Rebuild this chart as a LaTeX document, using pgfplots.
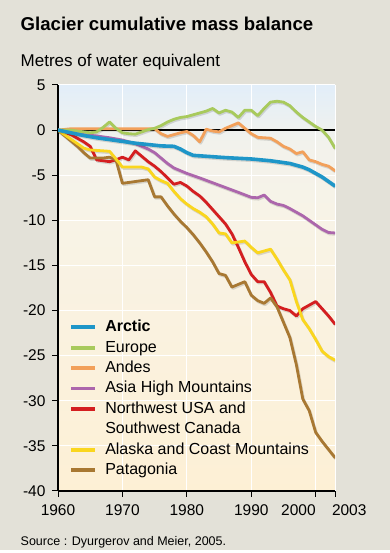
\documentclass[border=0pt]{standalone}
\usepackage{fontspec}
\setmainfont{Liberation Sans}
\usepackage{pgfplots}
\usepackage{pgfplotstable}
\pgfplotsset{compat=1.18}
\definecolor{bg}{RGB}{227,225,216}
\definecolor{cArctic}{RGB}{30,150,200}
\definecolor{cEurope}{RGB}{168,202,92}
\definecolor{cAndes}{RGB}{242,160,90}
\definecolor{cAsia}{RGB}{172,102,172}
\definecolor{cNW}{RGB}{212,30,32}
\definecolor{cAlaska}{RGB}{250,214,30}
\definecolor{cPat}{RGB}{168,120,50}
\definecolor{sBlue}{RGB}{226,238,249}
\definecolor{sMid}{RGB}{242,242,236}
\definecolor{sCream}{RGB}{248,243,230}
\definecolor{sBot}{RGB}{253,240,213}
\pgfdeclareverticalshading{plotbg}{100bp}{color(0bp)=(sBot); color(25bp)=(sBot); color(58bp)=(sCream); color(68bp)=(sMid); color(75bp)=(sBlue); color(100bp)=(sBlue)}
\pgfplotsset{shadow/.style={black, opacity=0.13, line width=3pt, forget plot, transform canvas={xshift=0.9pt,yshift=-1.3pt}}}

\pgfplotstableread{
year v
1960 0
1962 -0.3
1964 -0.6
1966 -0.85
1968 -1.05
1970 -1.25
1972 -1.45
1974 -1.6
1976 -1.75
1978 -1.8
1979 -2.1
1980 -2.5
1981 -2.8
1983 -2.9
1986 -3.05
1990 -3.2
1993 -3.4
1996 -3.7
1997 -3.9
1998 -4.1
1999 -4.4
2000 -4.8
2001 -5.2
2002 -5.7
2003 -6.2
}\arctic

\pgfplotstableread{
year v
1960 0
1962 0
1963 -0.1
1964 -0.2
1965 -0.3
1966 -0.2
1967 0.3
1968 0.9
1969 0.2
1970 -0.3
1971 -0.4
1972 -0.45
1973 -0.2
1974 0.05
1975 0.2
1976 0.5
1977 0.9
1978 1.2
1979 1.4
1980 1.5
1981 1.7
1982 1.9
1983 2.1
1984 2.4
1985 1.9
1986 2.2
1987 2.0
1988 1.4
1989 2.2
1990 2.2
1991 1.6
1992 2.4
1993 3.1
1994 3.2
1995 3.1
1996 2.7
1997 2.0
1998 1.4
1999 0.9
2000 0.4
2001 0.0
2002 -0.8
2003 -2.0
}\europe

\pgfplotstableread{
year v
1960 0
1962 0.15
1975 0.15
1976 -0.4
1977 -0.7
1978 -0.5
1979 -0.3
1980 -0.15
1981 -0.6
1982 -1.3
1983 0.1
1984 -0.1
1985 -0.2
1986 0.2
1987 0.5
1988 0.8
1989 0.2
1990 -0.4
1991 -0.8
1992 -0.85
1993 -0.9
1994 -1.3
1995 -1.8
1996 -2.1
1997 -2.6
1998 -2.4
1999 -3.3
2000 -3.5
2001 -3.8
2002 -4.0
2003 -4.5
}\andes

\pgfplotstableread{
year v
1960 0
1962 -0.3
1964 -0.5
1966 -0.65
1968 -0.85
1970 -1.1
1972 -1.5
1974 -2.1
1975 -2.5
1976 -3.1
1977 -3.7
1978 -4.2
1980 -4.8
1982 -5.3
1985 -6.1
1988 -6.9
1990 -7.45
1991 -7.5
1992 -7.2
1993 -7.9
1994 -8.2
1995 -8.35
1996 -8.7
1998 -9.5
2000 -10.5
2001 -11.0
2002 -11.35
2003 -11.4
}\asia

\pgfplotstableread{
year v
1960 0
1962 -0.5
1964 -1.3
1965 -1.8
1966 -3.3
1967 -3.4
1968 -3.5
1969 -3.3
1970 -3.0
1971 -3.3
1972 -2.3
1973 -2.9
1974 -3.5
1975 -4.0
1976 -4.6
1977 -5.3
1978 -6.0
1979 -5.8
1980 -6.2
1981 -6.8
1982 -7.3
1983 -8.0
1984 -8.8
1985 -9.6
1986 -10.4
1987 -11.5
1988 -13.0
1989 -14.6
1990 -16.0
1991 -16.8
1992 -16.8
1993 -18.0
1994 -19.5
1995 -19.8
1996 -20.0
1997 -20.6
1998 -19.8
1999 -19.4
2000 -19.0
2001 -19.8
2002 -20.6
2003 -21.5
}\nwusa

\pgfplotstableread{
year v
1960 0
1961 -0.5
1962 -1.0
1963 -1.5
1964 -2.0
1965 -2.2
1966 -2.25
1967 -2.3
1968 -2.35
1969 -3.2
1970 -4.1
1971 -4.1
1972 -4.1
1973 -4.1
1974 -4.3
1975 -5.2
1976 -5.6
1977 -5.9
1978 -6.8
1979 -7.6
1980 -8.2
1981 -8.7
1982 -9.1
1983 -9.6
1984 -10.4
1985 -11.4
1986 -11.5
1987 -12.5
1988 -12.4
1989 -12.3
1990 -13.0
1991 -13.6
1992 -13.4
1993 -13.2
1994 -14.3
1995 -15.5
1996 -16.6
1997 -19.0
1998 -21.0
1999 -22.0
2000 -23.2
2001 -24.5
2002 -25.1
2003 -25.5
}\alaska

\pgfplotstableread{
year v
1960 0
1961 -0.6
1962 -1.2
1963 -1.8
1964 -2.5
1965 -3.1
1966 -3.1
1967 -3.1
1968 -3.0
1969 -3.3
1970 -5.9
1971 -5.8
1972 -5.7
1973 -5.6
1974 -5.5
1975 -7.4
1976 -7.4
1977 -8.4
1978 -9.3
1979 -10.1
1980 -10.8
1981 -11.6
1982 -12.5
1983 -13.5
1984 -14.6
1985 -15.9
1986 -16.1
1987 -17.4
1988 -17.1
1989 -16.8
1990 -18.3
1991 -18.9
1992 -19.2
1993 -18.6
1994 -19.6
1995 -21.3
1996 -23.0
1997 -26.0
1998 -29.8
1999 -31.1
2000 -33.5
2001 -34.5
2002 -35.4
2003 -36.3
}\patagonia

\begin{document}
\begin{tikzpicture}
\fill[bg] (0pt,0pt) rectangle (390pt,553pt);
\fill[white] (0pt,0pt) rectangle (390pt,2.5pt);
\useasboundingbox (0pt,0pt) rectangle (390pt,553pt);
\node[anchor=base west, inner sep=0, font=\fontsize{18.6}{22}\selectfont\bfseries] at (20.5pt,522pt) {Glacier cumulative mass balance};
\node[anchor=base west, inner sep=0, font=\fontsize{17}{20}\selectfont] at (20.5pt,486pt) {Metres of water equivalent};
\node[anchor=base west, inner sep=0, font=\fontsize{12.5}{14}\selectfont] at (20.5pt,7pt) {Source : Dyurgerov and Meier, 2005.};
\begin{axis}[
  at={(58pt,62pt)}, anchor=south west, scale only axis,
  width=277pt, height=406pt,
  xmin=1960, xmax=2003, ymin=-40, ymax=5,
  axis x line=bottom, axis y line=left,
  axis line style={-, black},
  x axis line style={line width=1.3pt},
  y axis line style={line width=2.2pt},
  xtick={1960,1970,1980,1990,2000,2003},
  xticklabels={1960,1970,1980,1990,\makebox[0pt][r]{2000},\makebox[0pt][l]{\hspace{-3pt}2003}},
  ytick={-40,-35,-30,-25,-20,-15,-10,-5,0,5},
  yticklabels={-40,-35,-30,-25,-20,-15,-10,-5,0,5},
  tick align=outside, major tick length=6pt,
  tick style={black, line width=1pt},
  ticklabel style={font=\fontsize{15.5}{17}\selectfont},
  xticklabel style={yshift=-4pt},
  yticklabel style={xshift=-3pt},
  grid=major, major grid style={white, line width=1pt},
  axis background/.style={shading=plotbg},
  every axis plot/.append style={line join=round, line cap=round},
  legend style={at={(axis cs:1961.75,-21.0)}, anchor=north west,
    draw=none, fill=none, inner sep=0pt, row sep=4.1pt, column sep=8pt,
    font=\fontsize{16}{18}\selectfont,
    nodes={inner sep=0pt, text height=12pt, text depth=4.3pt},
    cells={anchor=base west}},
  legend image code/.code={\draw[#1, line width=3.8pt, line cap=butt] (0pt,4.5pt) -- (24pt,4.5pt);},
]
\addplot[black, line width=1.8pt, forget plot, line cap=butt] coordinates {(1960,0) (2003,0)};
\addplot[shadow] table {\nwusa};
\addplot[shadow] table {\patagonia};
\addplot[shadow] table {\alaska};
\addplot[shadow] table {\asia};
\addplot[shadow] table {\andes};
\addplot[shadow] table {\europe};
\addplot[cNW, line width=2.8pt, forget plot] table {\nwusa};
\addplot[cPat, line width=2.8pt, forget plot] table {\patagonia};
\addplot[cAlaska, line width=2.8pt, forget plot] table {\alaska};
\addplot[cAsia, line width=2.8pt, forget plot] table {\asia};
\addplot[cAndes, line width=2.8pt, forget plot] table {\andes};
\addplot[cEurope, line width=2.8pt, forget plot] table {\europe};
\addplot[shadow, line width=3.6pt] table {\arctic};
\addplot[cArctic, line width=3.6pt, forget plot] table {\arctic};
\addlegendimage{cArctic}\addlegendentry{\textbf{Arctic}}
\addlegendimage{cEurope}\addlegendentry{Europe}
\addlegendimage{cAndes}\addlegendentry{Andes}
\addlegendimage{cAsia}\addlegendentry{Asia High Mountains}
\addlegendimage{cNW}\addlegendentry{Northwest USA and}
\addlegendimage{empty legend}\addlegendentry{Southwest Canada}
\addlegendimage{cAlaska}\addlegendentry{Alaska and Coast Mountains}
\addlegendimage{cPat}\addlegendentry{Patagonia}
\end{axis}
\end{tikzpicture}
\end{document}
